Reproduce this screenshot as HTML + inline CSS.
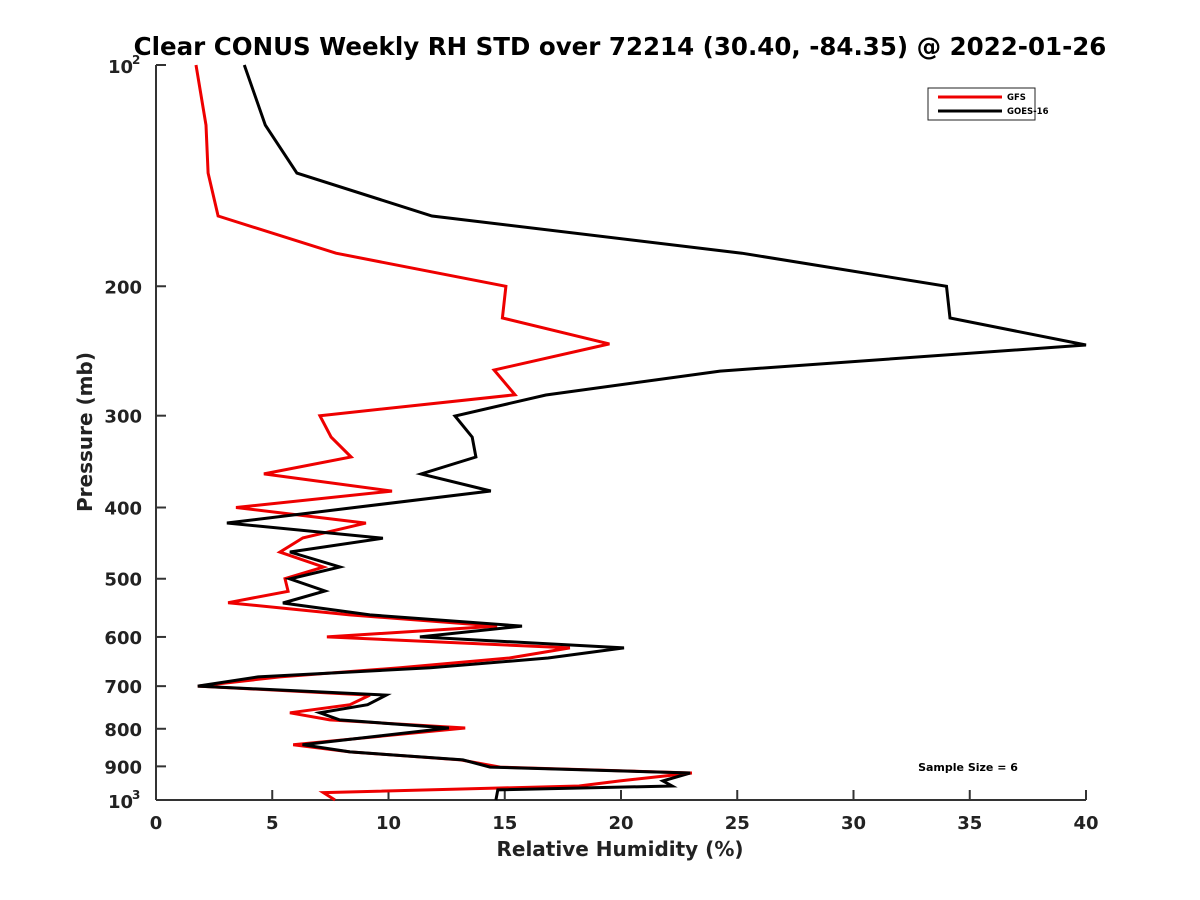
<!DOCTYPE html>
<html><head><meta charset="utf-8">
<style>
body{margin:0;background:#fff;}
svg{display:block;font-family:"DejaVu Sans","Liberation Sans",sans-serif;font-weight:bold;}
</style></head><body>
<svg id="chart" width="1200" height="900">
<rect width="1200" height="900" fill="#fff"/>
<text x="620" y="55" text-anchor="middle" font-size="24.5">Clear CONUS Weekly RH STD over 72214 (30.40, -84.35) @ 2022-01-26</text>
<g id="axes"></g>
<g id="series"></g>
<text x="620" y="856" text-anchor="middle" font-size="20" fill="#222">Relative Humidity (%)</text>
<text transform="translate(92,432) rotate(-90)" text-anchor="middle" font-size="20" fill="#222">Pressure (mb)</text>
<g>
<rect x="928" y="88" width="107" height="32" fill="#fff" stroke="#222" stroke-width="1"/>
<line x1="938" y1="97" x2="1002" y2="97" stroke="#e00" stroke-width="3"/>
<text x="1007" y="100" font-size="8.5">GFS</text>
<line x1="938" y1="111" x2="1002" y2="111" stroke="#000" stroke-width="3"/>
<text x="1007" y="114" font-size="8.5">GOES-16</text>
</g>
<text x="968" y="771" text-anchor="middle" font-size="11">Sample Size = 6</text>
</svg>
<script>
const goesRH=[3.8,4.7,6.06,11.87,25.2,34.0,34.15,40,24.26,16.77,12.86,13.6,13.76,11.4,14.4,3.05,9.76,5.76,7.91,5.76,7.27,5.46,9.2,15.74,11.35,20.13,16.86,11.8,4.39,1.8,9.9,9.1,7.05,7.9,12.6,6.3,8.34,13.2,14.37,22.97,21.8,22.2,14.7,14.62];
const goesP=[100,120.7,140.3,160.5,180.3,200,220.9,240.4,260.9,281.2,300.3,320.8,341.5,360.1,379.8,419.9,440.3,459.8,481.9,500.3,519.6,539.5,560,580,600,621,641,661,680,700,720,742,761,778,798,841,860,882,902,919,942,957,969,1000];
const gfsRH=[1.72,2.15,2.24,2.67,7.74,15.05,14.9,19.5,14.54,15.44,7.05,7.53,8.39,4.64,10.15,3.44,9.03,6.32,5.33,7.2,5.55,5.68,3.1,8.34,14.67,7.35,17.8,15.2,10.5,5.33,1.8,9.2,8.34,5.76,7.48,13.3,5.9,8.34,13.1,14.8,23.05,19.96,18.2,7.2,7.7];
const gfsP=[100,120.7,140.3,160.5,180.3,200,220.9,239.6,260,281,300,320.8,341.5,360,380,400,420,440,460,482,500,520,539,560,580,600,621,641,661,680,700,720,742,761,778,798,841,860,882,902,919,942,957,977,1000];
const xTicks=[0,5,10,15,20,25,30,35,40];
const yTicks=[200,300,400,500,600,700,800,900];
const X0=156,X1=1086,Y0=65,Y1=800;
function xs(v){return X0+(v-0)/40*(X1-X0);}
function ys(p){return Y0+Math.log10(p/100)*(Y1-Y0);}
const NS="http://www.w3.org/2000/svg";
const axes=document.getElementById('axes'),ser=document.getElementById('series');
function mk(tag,attrs,parent){const e=document.createElementNS(NS,tag);for(const k in attrs)e.setAttribute(k,attrs[k]);parent.appendChild(e);return e;}
let e=mk('line',{x1:X0,y1:Y0,x2:X0,y2:Y1,stroke:'#333','stroke-width':2},axes);


e=mk('line',{x1:X0,y1:Y1,x2:X1,y2:Y1,stroke:'#333','stroke-width':2},axes);


xTicks.forEach(v=>{
 const t=mk('line',{x1:xs(v),y1:Y1,x2:xs(v),y2:Y1-10,stroke:'#333','stroke-width':2},axes);
 
 
 const l=mk('text',{x:xs(v),y:Y1+29,'text-anchor':'middle','font-size':18,fill:'#222'},axes);
 l.textContent=v;
 
 
});
[100,1000].concat(yTicks).forEach(p=>{
 const t=mk('line',{x1:X0,y1:ys(p),x2:X0+10,y2:ys(p),stroke:'#333','stroke-width':2},axes);
 
 
});
yTicks.forEach(p=>{
 const l=mk('text',{x:X0-14,y:ys(p)+7,'text-anchor':'end','font-size':18,fill:'#222'},axes);
 l.textContent=p;
 
 
});
[[100,'2'],[1000,'3']].forEach(([p,ex])=>{
 const l=mk('text',{x:X0-48,y:ys(p)+8,'font-size':18,fill:'#222'},axes);
 l.textContent='10';
 
 
 const s=mk('text',{x:X0-24,y:ys(p)-1,'font-size':12,fill:'#222'},axes);
 s.textContent=ex;
 
 
});
function line(rh,p,color,name){
 const pts=rh.map((v,i)=>xs(v).toFixed(1)+','+ys(p[i]).toFixed(1)).join(' ');
 const pl=mk('polyline',{points:pts,fill:'none',stroke:color,'stroke-width':3,'stroke-linejoin':'miter'},ser);
 
 
}
line(gfsRH,gfsP,'#e00','gfs-line');
line(goesRH,goesP,'#000','goes16-line');
</script>
</body></html>
